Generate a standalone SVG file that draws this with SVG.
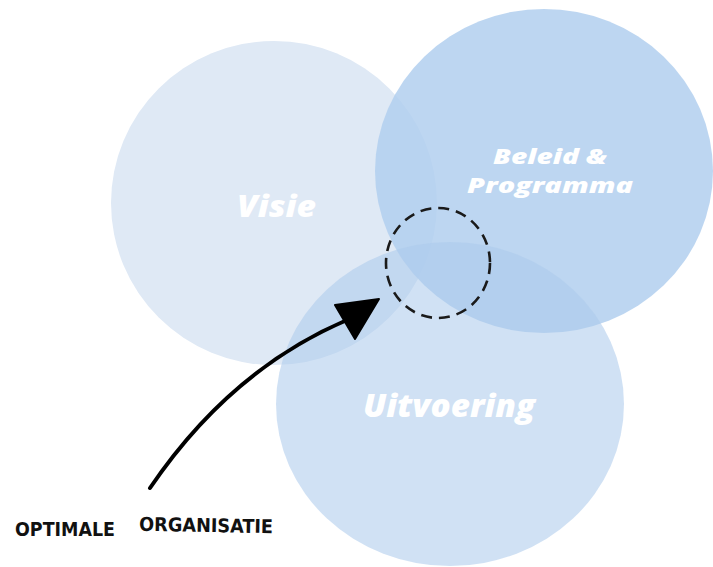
<svg xmlns="http://www.w3.org/2000/svg" width="713" height="567" viewBox="0 0 713 567">
<style>
.lbl{font-family:"Open Sans","Noto Sans",sans-serif;font-weight:800;font-style:italic;fill:#ffffff;text-anchor:start}
.note{font-family:"DejaVu Sans Condensed","DejaVu Sans",sans-serif;font-weight:600;font-size:19px;fill:#111111}
</style>
<rect width="713" height="567" fill="#ffffff"/>
<g id="visie">
<ellipse cx="274" cy="203" rx="163" ry="162" fill="#dfe9f5"/>
<text class="lbl" x="237" y="217" font-size="30" textLength="79" lengthAdjust="spacingAndGlyphs">Visie</text>
</g>
<g id="beleid">
<ellipse cx="544" cy="171" rx="169" ry="162" fill="#b1cfef" fill-opacity="0.85"/>
<text class="lbl" x="493" y="164" font-size="21" textLength="114" lengthAdjust="spacingAndGlyphs">Beleid &amp;</text>
<text class="lbl" x="467" y="193" font-size="21" textLength="166" lengthAdjust="spacingAndGlyphs">Programma</text>
</g>
<g id="uitvoering">
<ellipse cx="450" cy="404" rx="174" ry="162" fill="#adcaec" fill-opacity="0.57"/>
<text class="lbl" x="363" y="417" font-size="32" textLength="172" lengthAdjust="spacingAndGlyphs">Uitvoering</text>
</g>
<g id="focus">
<ellipse cx="438" cy="263" rx="52" ry="55" fill="none" stroke="#1a1a1a" stroke-width="2.6" stroke-dasharray="11 7"/>
</g>
<g id="connectors">
<path d="M150,488 Q230,370 347,320" fill="none" stroke="#000" stroke-width="4" stroke-linecap="round"/>
<polygon points="379,299 335,305 355,339" fill="#000" stroke="#000" stroke-width="2" stroke-linejoin="round"/>
</g>
<g id="note">
<text class="note" x="15" y="536" textLength="100" lengthAdjust="spacingAndGlyphs">OPTIMALE</text>
<text class="note" x="139" y="532" textLength="134" lengthAdjust="spacingAndGlyphs" transform="rotate(1 206 531)">ORGANISATIE</text>
</g>
</svg>
